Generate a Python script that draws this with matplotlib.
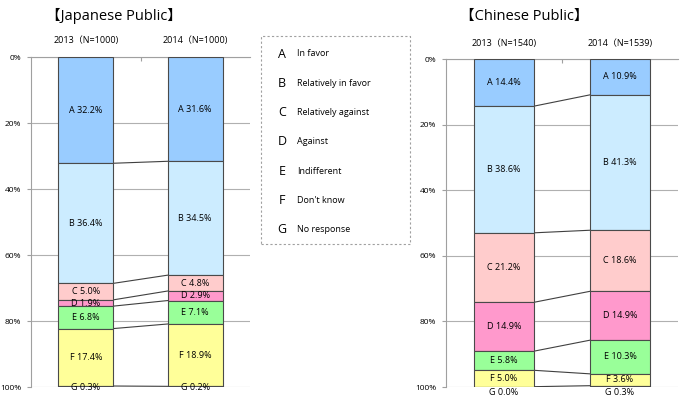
import numpy as np
import matplotlib.pyplot as plt
from matplotlib.patches import Rectangle

letters = ['A', 'B', 'C', 'D', 'E', 'F', 'G']
legend_text = ['In favor', 'Relatively in favor', 'Relatively against', 'Against',
               'Indifferent', "Don't know", 'No response']
colors = ['#99CCFF', '#CCECFF', '#FFCCCC', '#FF99CC', '#99FF99', '#FFFF99', '#404040']

jp_years = ['2013（N=1000)', '2014（N=1000)']
jp_2013 = [32.2, 36.4, 5.0, 1.9, 6.8, 17.4, 0.3]
jp_2014 = [31.6, 34.5, 4.8, 2.9, 7.1, 18.9, 0.2]

cn_years = ['2013（N=1540)', '2014（N=1539)']
cn_2013 = [14.4, 38.6, 21.2, 14.9, 5.8, 5.0, 0.0]
cn_2014 = [10.9, 41.3, 18.6, 14.9, 10.3, 3.6, 0.3]

fam = ['Open Sans', 'Noto Sans CJK JP', 'DejaVu Sans']
plt.rcParams['font.family'] = fam

fig = plt.figure(figsize=(6.8, 3.96), dpi=100)


def panel(rect, years, series, width, g_below):
    ax = fig.add_axes(rect)
    edge = '#4a4a4a'
    for i, vals in enumerate(series):
        bottom = 0
        for j, v in enumerate(vals):
            ax.bar(i, v, width, bottom=bottom, color=colors[j], edgecolor=edge, linewidth=0.8, zorder=3)
            lab = f'{letters[j]} {v:.1f}%'
            if j == 6:
                if g_below:
                    ax.text(i, 100.2, lab, ha='center', va='top', fontsize=6.5, clip_on=False, zorder=4)
                else:
                    ax.text(i, 100.3, lab, ha='center', va='center', fontsize=6.5, clip_on=False, zorder=4)
            else:
                ax.text(i, bottom + v / 2, lab, ha='center', va='center', fontsize=6.5, zorder=4)
            bottom += v
    # connector lines
    c0 = np.cumsum(series[0])[:-1]
    c1 = np.cumsum(series[1])[:-1]
    for a, b in zip(c0, c1):
        ax.plot([width / 2, 1 - width / 2], [a, b], color='#404040', lw=0.8, zorder=2)
    ax.set_xlim(-0.5, 1.5)
    ax.set_ylim(100, 0)
    ax.set_yticks(range(0, 101, 20))
    ax.set_yticklabels([f'{t}%' for t in range(0, 101, 20)], fontsize=6)
    ax.yaxis.grid(True, color='#b0b0b0', lw=0.8, zorder=0)
    ax.xaxis.tick_top()
    ax.set_xticks([0.5])
    ax.set_xticklabels([''])
    ax.tick_params(axis='x', direction='in', length=3, color='#a0a0a0')
    ax.tick_params(axis='y', length=3, color='#a0a0a0', pad=4)
    for s in ['right', 'bottom']:
        ax.spines[s].set_visible(False)
    ax.spines['left'].set_color('#a0a0a0')
    ax.spines['top'].set_color('#a0a0a0')
    for i, y in enumerate(years):
        ax.text(i, -3.5, y, ha='center', va='bottom', fontsize=6.5, clip_on=False)
    return ax


panel([31 / 680, 1 - 387 / 396, 219 / 680, 330 / 396], jp_years, [jp_2013, jp_2014], 0.5, False)
panel([446 / 680, 1 - 387 / 396, 232 / 680, 328 / 396], cn_years, [cn_2013, cn_2014], 0.51, True)

fig.text(114 / 680, 1 - 16 / 396, '【Japanese Public】', ha='center', va='center', fontsize=10.5)
fig.text(524 / 680, 1 - 16 / 396, '【Chinese Public】', ha='center', va='center', fontsize=10.5)

# legend box
fig.patches.append(Rectangle((261 / 680, 1 - 244 / 396), 149 / 680, 208 / 396,
                             transform=fig.transFigure, fill=False, edgecolor='#a0a0a0',
                             linestyle=(0, (2, 2)), lw=0.8))
for k in range(7):
    y = 1 - (54 + k * 29.3) / 396
    fig.text(282 / 680, y, letters[k], ha='center', va='center', fontsize=9)
    fig.text(297 / 680, y, legend_text[k], ha='left', va='center', fontsize=6.5)

fig.savefig('out.png', dpi=100)
